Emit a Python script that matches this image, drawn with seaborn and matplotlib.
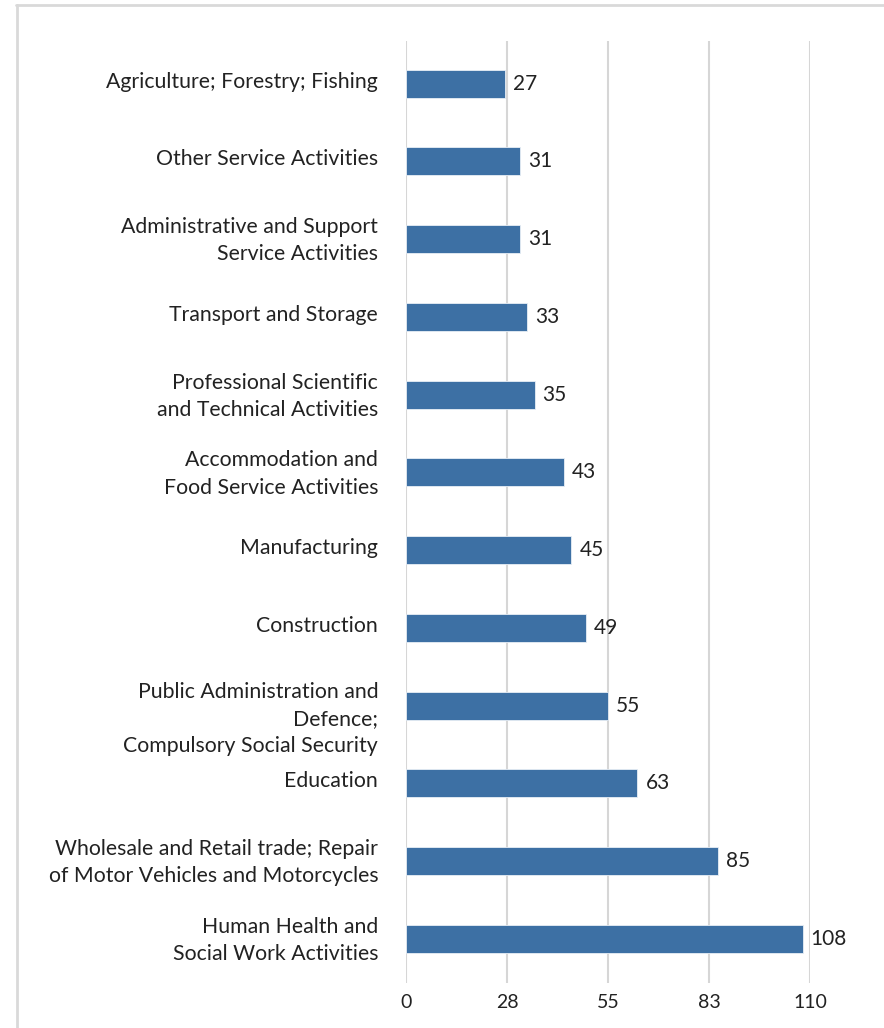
import matplotlib
matplotlib.use("Agg")
import matplotlib.pyplot as plt
import matplotlib.transforms as mtransforms
from matplotlib.lines import Line2D
import pandas as pd
import seaborn as sns

sectors = [
    "Agriculture; Forestry; Fishing",
    "Other Service Activities",
    "Administrative and Support\nService Activities",
    "Transport and Storage",
    "Professional Scientific\nand Technical Activities",
    "Accommodation and\nFood Service Activities",
    "Manufacturing",
    "Construction",
    "Public Administration and\nDefence;\nCompulsory Social Security",
    "Education",
    "Wholesale and Retail trade; Repair\nof Motor Vehicles and Motorcycles",
    "Human Health and\nSocial Work Activities",
]
counts = [27, 31, 31, 33, 35, 43, 45, 49, 55, 63, 85, 108]
tick_values = [0, 27.5, 55, 82.5, 110]
tick_labels = ["0", "28", "55", "83", "110"]

df = pd.DataFrame({"sector": sectors, "count": counts})

sns.set_style("white")
plt.rcParams["font.family"] = ["Lato", "DejaVu Sans"]

fig = plt.figure(figsize=(8.84, 10.28), dpi=100)
ax = fig.add_axes([406 / 884, 1 - 983 / 1028, 404 / 884, 942 / 1028])

sns.barplot(data=df, x="count", y="sector", orient="h", color="#3d70a4",
            saturation=1, width=0.36, edgecolor="#e8eef5", linewidth=0.6,
            ax=ax, zorder=3)

for i, v in enumerate(counts):
    ax.text(v + 2.2, i, str(v), va="center", ha="left", fontsize=15,
            color="#222222")

ax.set_xlim(0, 110)
ax.set_ylim(11.57, -0.55)
ax.set_xticks(tick_values)
ax.set_xticklabels(tick_labels, fontsize=14, color="#222222")
ax.set_yticks(range(len(sectors)))
ax.set_yticklabels(sectors, fontsize=15.3, color="#222222", linespacing=1.45)
ax.xaxis.grid(True, color="#d6d6d6", linewidth=1.5, zorder=0)
ax.set_axisbelow(True)
ax.tick_params(axis="y", length=0, pad=20)
ax.tick_params(axis="x", length=0, pad=8)
for lab in ax.get_yticklabels():
    dy = 0.04
    if lab.get_text().startswith("Public"):
        dy = -0.08
    lab.set_transform(lab.get_transform() + mtransforms.ScaledTranslation(0, dy, fig.dpi_scale_trans))
ax.set_xlabel("")
ax.set_ylabel("")
sns.despine(ax=ax, left=True, bottom=True)

# light frame at top and left of the picture
fig.add_artist(Line2D([16 / 884, 1], [1 - 5 / 1028, 1 - 5 / 1028], color="#d9d9d9", linewidth=2))
fig.add_artist(Line2D([17 / 884, 17 / 884], [0, 1 - 5 / 1028], color="#d9d9d9", linewidth=2))

fig.savefig("out.png", dpi=100)
